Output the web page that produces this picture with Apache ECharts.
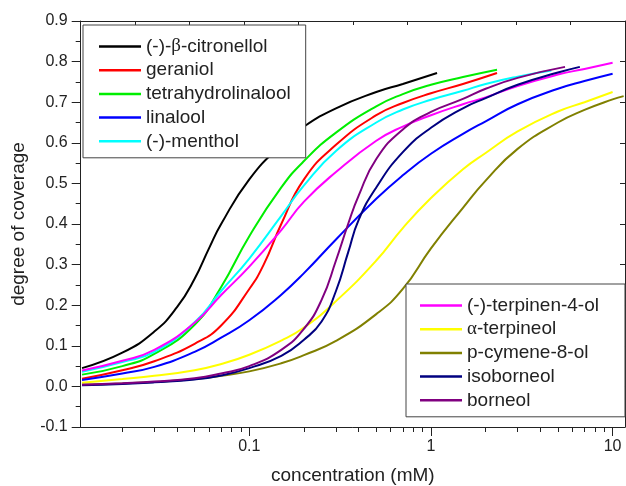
<!DOCTYPE html>
<html>
<head>
<meta charset="utf-8">
<script src="https://cdn.jsdelivr.net/npm/echarts@6/dist/echarts.min.js"></script>
<style>
  html, body { margin: 0; padding: 0; background: #fff; }
  #chart { width: 626px; height: 486px; }
</style>
</head>
<body>
<div id="chart"></div>
<script>
// 浓度 (mM) 和覆盖度
const citronellolX = [0.012, 0.02, 0.03, 0.04, 0.05, 0.06, 0.07, 0.1, 0.15, 0.2, 0.3, 0.5, 0.7, 1.08]
const citronellolY = [0.045, 0.083, 0.135, 0.195, 0.265, 0.34, 0.4, 0.51, 0.595, 0.64, 0.685, 0.725, 0.745, 0.772]

const geraniolX = [0.012, 0.02, 0.03, 0.05, 0.07, 0.1, 0.12, 0.15, 0.2, 0.3, 0.5, 0.7, 1, 1.5, 2.31]
const geraniolY = [0.019, 0.04, 0.062, 0.105, 0.15, 0.24, 0.3, 0.4, 0.51, 0.595, 0.668, 0.698, 0.722, 0.745, 0.772]

const thLinaloolX = [0.012, 0.02, 0.03, 0.05, 0.07, 0.1, 0.15, 0.2, 0.3, 0.5, 0.7, 1, 1.5, 2.31]
const thLinaloolY = [0.029, 0.05, 0.08, 0.152, 0.245, 0.37, 0.49, 0.555, 0.625, 0.69, 0.72, 0.743, 0.762, 0.78]

const linaloolX = [0.012, 0.02, 0.03, 0.05, 0.07, 0.1, 0.15, 0.2, 0.3, 0.5, 0.7, 1, 1.5, 2, 3, 5, 7, 10]
const linaloolY = [0.016, 0.032, 0.048, 0.085, 0.12, 0.163, 0.226, 0.279, 0.362, 0.462, 0.52, 0.573, 0.622, 0.653, 0.695, 0.733, 0.752, 0.77]

const mentholX = [0.012, 0.02, 0.03, 0.05, 0.07, 0.1, 0.15, 0.2, 0.3, 0.5, 0.7, 1, 1.5, 2, 3, 4.6]
const mentholY = [0.036, 0.06, 0.085, 0.158, 0.235, 0.315, 0.42, 0.495, 0.58, 0.65, 0.682, 0.706, 0.728, 0.745, 0.763, 0.778]

const terpinenolX = [0.012, 0.02, 0.03, 0.05, 0.07, 0.1, 0.15, 0.2, 0.3, 0.5, 0.7, 1, 1.5, 2, 3, 5, 7, 10]
const terpinenolY = [0.039, 0.063, 0.09, 0.157, 0.225, 0.295, 0.385, 0.455, 0.528, 0.605, 0.64, 0.668, 0.695, 0.712, 0.74, 0.768, 0.782, 0.797]

const terpineolX = [0.012, 0.02, 0.03, 0.05, 0.07, 0.1, 0.15, 0.2, 0.3, 0.5, 0.7, 1, 1.5, 2, 3, 5, 7, 10]
const terpineolY = [0.009, 0.018, 0.026, 0.04, 0.055, 0.078, 0.113, 0.145, 0.21, 0.31, 0.39, 0.464, 0.535, 0.575, 0.628, 0.677, 0.7, 0.725]

const cymenolX = [0.012, 0.02, 0.03, 0.05, 0.07, 0.1, 0.15, 0.2, 0.3, 0.5, 0.7, 1, 1.5, 2, 3, 5, 7, 10, 11.5]
const cymenolY = [0.004, 0.007, 0.011, 0.018, 0.026, 0.037, 0.057, 0.077, 0.112, 0.178, 0.24, 0.34, 0.44, 0.507, 0.585, 0.65, 0.681, 0.707, 0.715]

const isoborneolX = [0.012, 0.02, 0.03, 0.05, 0.07, 0.1, 0.15, 0.2, 0.25, 0.3, 0.35, 0.4, 0.5, 0.7, 1, 1.5, 2, 3, 5, 6.6]
const isoborneolY = [0.003, 0.006, 0.01, 0.017, 0.027, 0.045, 0.075, 0.115, 0.16, 0.235, 0.33, 0.41, 0.49, 0.577, 0.637, 0.685, 0.71, 0.743, 0.773, 0.787]

const borneolX = [0.012, 0.02, 0.03, 0.05, 0.07, 0.1, 0.15, 0.2, 0.25, 0.3, 0.35, 0.4, 0.5, 0.7, 1, 1.5, 2, 3, 5.47]
const borneolY = [0.004, 0.008, 0.012, 0.02, 0.032, 0.05, 0.09, 0.142, 0.213, 0.31, 0.4, 0.47, 0.56, 0.633, 0.676, 0.708, 0.733, 0.76, 0.787]

const names = ['(-)-β-citronellol', 'geraniol', 'tetrahydrolinalool', 'linalool', '(-)-menthol',
  '(-)-terpinen-4-ol', 'α-terpineol', 'p-cymene-8-ol', 'isoborneol', 'borneol']
const colors = ['#000000', '#ff0000', '#00ee00', '#0000ff', '#00ffff',
  '#ff00ff', '#ffff00', '#808000', '#000080', '#800080']
const xs = [citronellolX, geraniolX, thLinaloolX, linaloolX, mentholX,
  terpinenolX, terpineolX, cymenolX, isoborneolX, borneolX]
const ys = [citronellolY, geraniolY, thLinaloolY, linaloolY, mentholY,
  terpinenolY, terpineolY, cymenolY, isoborneolY, borneolY]

// x 轴刻度: 主刻度和次刻度
const xMajorTicks = [0.1, 1, 10]
const xMinorTicks = [0.02, 0.03, 0.04, 0.05, 0.06, 0.07, 0.08, 0.09,
  0.2, 0.3, 0.4, 0.5, 0.6, 0.7, 0.8, 0.9,
  2, 3, 4, 5, 6, 7, 8, 9]

const xMin = 0.0118
const xMax = 11.7
const yMin = -0.1
const yMax = 0.9

const font = 'Arial, "Liberation Sans", sans-serif'
const axisColor = '#222'

const chart = echarts.init(document.getElementById('chart'))

const lineSeries = names.map((name, i) => ({
  name: name,
  type: 'line',
  xAxisIndex: 0,
  yAxisIndex: 0,
  data: xs[i].map((x, j) => [x, ys[i][j]]),
  symbol: 'none',
  showSymbol: false,
  smooth: 0.5,
  lineStyle: { color: colors[i], width: 2 },
  itemStyle: { color: colors[i] },
  z: 2,
}))

const legendCommon = {
  orient: 'vertical',
  backgroundColor: '#fff',
  borderColor: '#444',
  borderWidth: 1,
  icon: 'rect',
  itemWidth: 42,
  itemHeight: 2.5,
  itemGap: 4.7,
  textStyle: {
    fontFamily: font,
    fontSize: 19,
    lineHeight: 19,
    color: '#222',
    rich: {
      g: { fontFamily: '"Liberation Serif", "DejaVu Serif", serif', fontSize: 19, lineHeight: 19, color: '#222' },
    },
  },
  formatter: (n) => n.replace(/([αβ])/, '{g|$1}'),
}

const option = {
  animation: false,
  backgroundColor: '#fff',
  grid: {
    left: 80.7,
    right: 1,
    top: 21,
    bottom: 59,
    containLabel: false,
    outerBoundsMode: 'none',
  },
  legend: [
    Object.assign({}, legendCommon, {
      data: names.slice(0, 5),
      left: 83,
      top: 25,
      padding: [12, 15, 7, 16],
    }),
    Object.assign({}, legendCommon, {
      data: names.slice(5),
      left: 406,
      top: 284,
      padding: [12, 26, 7, 14],
    }),
  ],
  xAxis: [
    {
      // 底部对数轴: 标签 + 次刻度
      type: 'log',
      logBase: 10,
      min: xMin,
      max: xMax,
      position: 'bottom',
      name: 'concentration (mM)',
      nameLocation: 'middle',
      nameGap: 39,
      nameTextStyle: { fontFamily: font, fontSize: 19, color: '#222' },
      axisLine: { show: true, onZero: false, lineStyle: { color: axisColor, width: 1 } },
      axisTick: { show: true, length: 5, customValues: xMinorTicks, lineStyle: { color: axisColor } },
      splitLine: { show: false },
      axisLabel: {
        showMinLabel: false,
        showMaxLabel: false,
        margin: 12,
        fontFamily: font,
        fontSize: 16,
        color: '#222',
        formatter: (v) => (v < 1 ? v.toFixed(1) : String(Math.round(v))),
      },
    },
    {
      // 上边框, 等分刻度
      type: 'value',
      min: 0,
      max: 10,
      interval: 1,
      position: 'top',
      axisLine: { show: true, onZero: false, lineStyle: { color: axisColor, width: 1 } },
      axisTick: { show: true, inside: true, length: 4, lineStyle: { color: axisColor } },
      axisLabel: { show: false },
      splitLine: { show: false },
    },
    {
      // 底部对数轴的主刻度 (较长)
      type: 'log',
      logBase: 10,
      min: xMin,
      max: xMax,
      position: 'bottom',
      axisLine: { show: false, onZero: false },
      axisTick: { show: true, length: 9, customValues: xMajorTicks, lineStyle: { color: axisColor } },
      axisLabel: { show: false },
      splitLine: { show: false },
    },
  ],
  yAxis: [
    {
      type: 'value',
      min: yMin,
      max: yMax,
      interval: 0.1,
      name: 'degree of coverage',
      nameLocation: 'middle',
      nameGap: 52,
      nameTextStyle: { fontFamily: font, fontSize: 19, color: '#222' },
      axisLine: { show: true, onZero: false, lineStyle: { color: axisColor, width: 1 } },
      axisTick: { show: true, length: 9, lineStyle: { color: axisColor } },
      minorTick: { show: true, splitNumber: 2, length: 5, lineStyle: { color: axisColor } },
      splitLine: { show: false },
      axisLabel: {
        margin: 13,
        fontFamily: font,
        fontSize: 16,
        color: '#222',
        formatter: (v) => v.toFixed(1),
      },
    },
    {
      type: 'value',
      min: yMin,
      max: yMax,
      interval: 0.1,
      position: 'right',
      axisLine: { show: true, onZero: false, lineStyle: { color: axisColor, width: 1 } },
      axisTick: { show: true, inside: true, length: 5, lineStyle: { color: axisColor } },
      axisLabel: { show: false },
      splitLine: { show: false },
    },
  ],
  series: lineSeries,
}

chart.setOption(option)
</script>
</body>
</html>
